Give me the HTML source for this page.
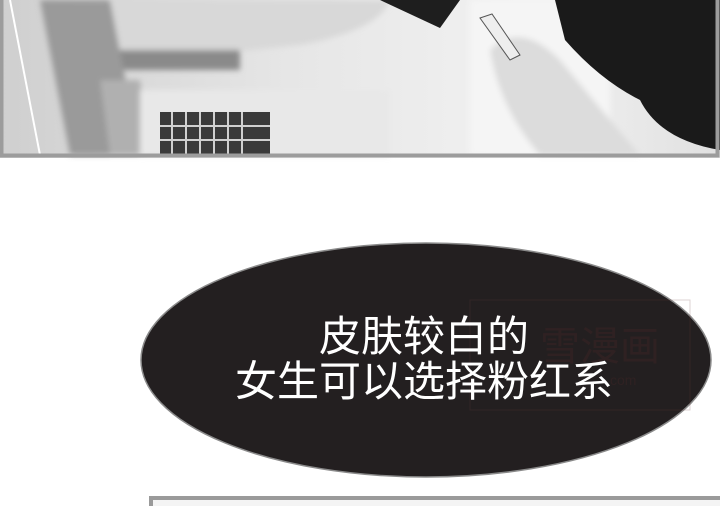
<!DOCTYPE html>
<html><head><meta charset="utf-8"><style>
html,body{margin:0;padding:0;background:#fff;}
#root{position:relative;width:720px;height:506px;overflow:hidden;background:#fff;font-family:"Liberation Sans","Noto Sans CJK SC",sans-serif;}
.t{position:absolute;left:0;width:848px;text-align:center;color:#fff;font-size:42px;line-height:46px;white-space:nowrap;}
</style></head><body>
<div id="root">
<svg width="720" height="506" style="position:absolute;left:0;top:0">
  <defs>
    <linearGradient id="bg" x1="0" x2="1" y1="0" y2="0">
      <stop offset="0" stop-color="#cfcfcf"/><stop offset="0.4" stop-color="#e6e6e6"/><stop offset="0.75" stop-color="#f2f2f2"/><stop offset="1" stop-color="#e0e0e0"/>
    </linearGradient>
    <filter id="blur"><feGaussianBlur stdDeviation="3"/></filter>
  </defs>
  <g>
    <rect x="0" y="0" width="720" height="158" fill="url(#bg)"/>
    <g filter="url(#blur)">
      <path d="M80 0 L390 0 Q380 30 300 45 L150 60 Q100 55 85 30 Z" fill="#d8d8d8"/>
      <rect x="110" y="50" width="130" height="20" fill="#8a8a8a"/>
      <path d="M40 0 L110 0 L140 155 L70 155 Z" fill="#9a9a9a"/>
      <path d="M100 80 L140 80 L150 155 L110 155 Z" fill="#b0b0b0"/>
      <rect x="140" y="90" width="250" height="66" fill="#e8e8e8"/>
      <rect x="470" y="0" width="140" height="155" fill="#f5f5f5"/>
      <path d="M490 50 Q520 20 560 60 L610 120 L640 155 L540 155 Q500 110 490 50 Z" fill="#dcdcdc"/>
    </g>
    <rect x="160" y="112" width="110" height="44" fill="#3a3a3a"/>
    <g stroke="#d0d0d0" stroke-width="2">
      <line x1="172" y1="112" x2="172" y2="156"/><line x1="186" y1="112" x2="186" y2="156"/>
      <line x1="200" y1="112" x2="200" y2="156"/><line x1="214" y1="112" x2="214" y2="156"/>
      <line x1="228" y1="112" x2="228" y2="156"/><line x1="242" y1="112" x2="242" y2="156"/>
      <line x1="160" y1="126" x2="270" y2="126"/><line x1="160" y1="140" x2="270" y2="140"/>
    </g>
    <path d="M380 0 L460 0 L440 28 Z" fill="#1e1e1e"/>
    <path d="M555 0 L720 0 L720 150 Q660 140 640 100 Q600 80 565 40 Z" fill="#1a1a1a"/>
    <path d="M480 18 L492 14 L520 55 L510 60 Z" fill="#eee" stroke="#555"/>
    <line x1="10" y1="0" x2="40" y2="155" stroke="#fff" stroke-width="2"/>
    <rect x="1.5" y="-2" width="716" height="157.5" fill="none" stroke="#9c9c9c" stroke-width="4"/>
  </g>
  <g>
    <ellipse cx="426" cy="360" rx="285" ry="117" fill="#231f20" stroke="#8a8a8a" stroke-width="1.5"/>
  </g>
  <g opacity="0.22">
    <rect x="470" y="300" width="220" height="110" fill="none" stroke="#6b3a3a" stroke-width="1"/>
    <text x="540" y="360" font-size="40" fill="#5a2a2a" font-family="Noto Sans CJK SC,sans-serif">雪漫画</text>
    <text x="610" y="385" font-size="14" fill="#5a2a2a" font-family="Liberation Sans,sans-serif">com</text>
  </g>
  <g>
    <rect x="151" y="498" width="575" height="20" fill="#f4f4f4" stroke="#9a9a9a" stroke-width="4"/>
  </g>
</svg>
<div class="t" style="top:314px">皮肤较白的</div>
<div class="t" style="top:359px">女生可以选择粉红系</div>
</div>
</body></html>
